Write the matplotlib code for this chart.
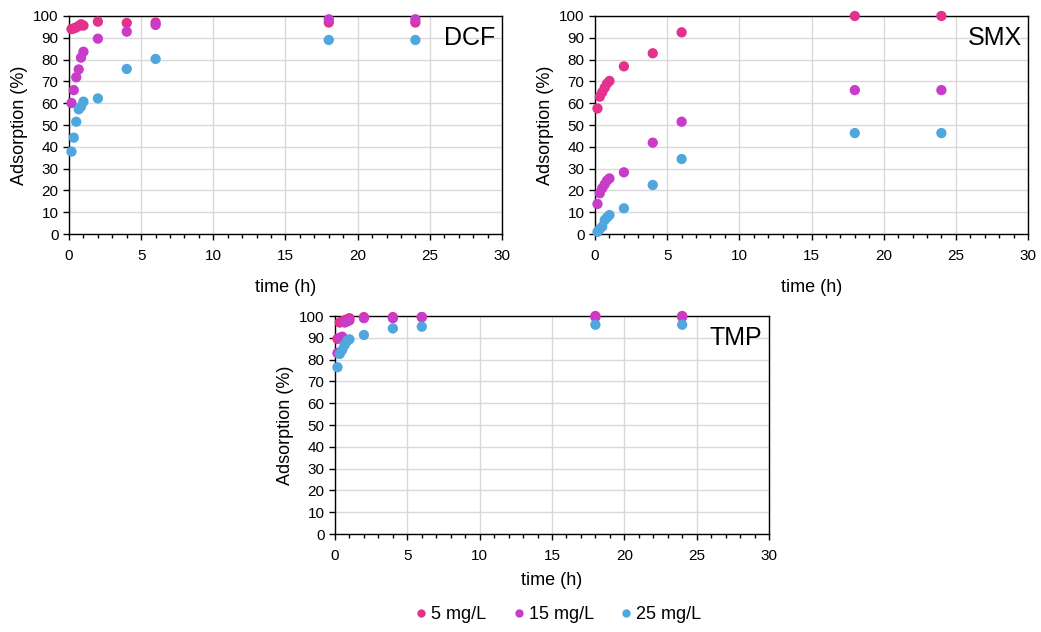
import matplotlib
matplotlib.use("Agg")
import matplotlib.pyplot as plt
from matplotlib.ticker import MultipleLocator
from matplotlib.lines import Line2D

plt.rcParams['font.family'] = ['Liberation Sans', 'DejaVu Sans']

# ---- Data ----
time_h = [0.17, 0.33, 0.5, 0.67, 0.83, 1, 2, 4, 6, 18, 24]

dcf_5 = [94.0, 94.3, 94.8, 95.4, 96.2, 95.6, 97.4, 96.8, 97.0, 97.0, 97.0]
dcf_15 = [60.1, 66.0, 71.9, 75.5, 80.9, 83.6, 89.6, 92.8, 95.9, 98.5, 98.5]
dcf_25 = [37.8, 44.2, 51.5, 57.2, 58.4, 60.7, 62.2, 75.7, 80.3, 89.0, 89.0]

smx_5 = [57.6, 63.0, 65.0, 67.1, 69.0, 70.2, 76.9, 82.9, 92.5, 100.0, 100.0]
smx_15 = [13.8, 18.7, 21.0, 22.8, 24.5, 25.5, 28.3, 41.9, 51.5, 66.0, 66.0]
smx_25 = [1.0, 2.3, 3.4, 6.4, 7.6, 8.7, 11.8, 22.5, 34.4, 46.3, 46.3]

tmp_5 = [89.5, 97.0, 97.5, 98.0, 98.5, 99.0, 99.5, 99.5, 99.5, 100.0, 100.0]
tmp_15 = [83.0, 90.0, 90.5, 97.0, 97.5, 98.0, 99.0, 99.0, 99.5, 99.5, 99.5]
tmp_25 = [76.5, 82.6, 84.4, 86.7, 88.5, 89.3, 91.3, 94.3, 95.1, 96.0, 96.0]

labels = ["5 mg/L", "15 mg/L", "25 mg/L"]
colors = ["#E5318E", "#C93BC9", "#4FA7DE"]

# name, series, axes rect, xlabel pad
panels = [
    ("DCF", [dcf_5, dcf_15, dcf_25], [0.0663, 0.6297, 0.4159, 0.345], 11),
    ("SMX", [smx_5, smx_15, smx_25], [0.5716, 0.6297, 0.4159, 0.345], 11),
    ("TMP", [tmp_5, tmp_15, tmp_25], [0.3218, 0.155, 0.4169, 0.345], 6),
]

fig = plt.figure(figsize=(10.41, 6.32), dpi=100)

for name, series, pos, xpad in panels:
    ax = fig.add_axes(pos)
    for vals, col in zip(series, colors):
        ax.scatter(time_h, vals, s=55, color=col, edgecolor='none', zorder=3, clip_on=False)
    ax.set_xlim(0, 30)
    ax.set_ylim(0, 100)
    ax.xaxis.set_major_locator(MultipleLocator(5))
    ax.xaxis.set_minor_locator(MultipleLocator(1))
    ax.yaxis.set_major_locator(MultipleLocator(10))
    ax.grid(True, which='major', color='#d9d9d9', linewidth=1)
    ax.set_axisbelow(True)
    ax.tick_params(which='both', direction='out', labelsize=11, width=1, color='black')
    ax.tick_params(which='major', length=4)
    ax.tick_params(which='minor', length=3)
    ax.tick_params(axis='x', which='major', pad=7)
    for sp in ax.spines.values():
        sp.set_color('black')
        sp.set_linewidth(1)
    ax.set_xlabel("time (h)", fontsize=13, labelpad=xpad)
    ax.set_ylabel("Adsorption (%)", fontsize=13, labelpad=4)
    ax.text(0.985, 0.955, name, transform=ax.transAxes, ha='right', va='top', fontsize=18)

handles = [Line2D([], [], marker='o', linestyle='none', markersize=6, color=c, markeredgecolor='none')
           for c in colors]
fig.legend(handles, labels, loc='center', bbox_to_anchor=(0.535, 0.027), ncol=3, frameon=False,
           fontsize=13, handletextpad=0.05, columnspacing=1.3, handlelength=1.0)

fig.savefig("out.png", dpi=100)
